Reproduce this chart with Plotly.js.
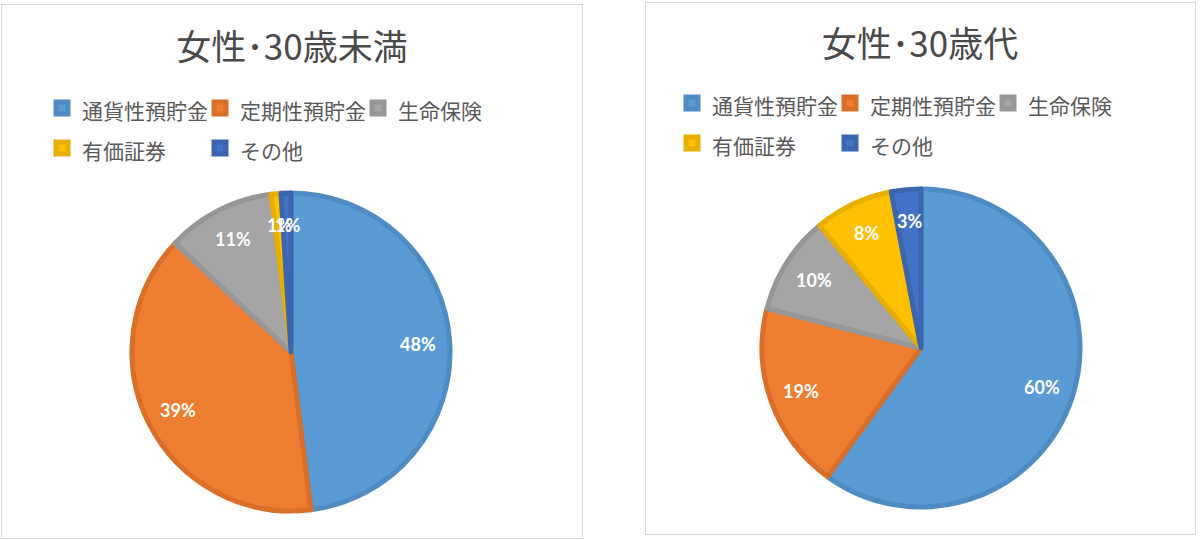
<!DOCTYPE html>
<html>
<head>
<meta charset="utf-8">
<script src="https://cdn.plot.ly/plotly-3.0.1.min.js"></script>
<style>
    body { margin: 0; background: #fff; width: 1200px; height: 540px; position: relative; overflow: hidden; }
    .panel { position: absolute; border: 1px solid #d9d9d9; box-sizing: border-box; background: #fff; }
</style>
</head>
<body>
<div class="panel" id="left" style="left:1px; top:4px; width:582px; height:535px;"></div>
<div class="panel" id="right" style="left:645px; top:2px; width:551px; height:533px;"></div>
<script>
const categories = ["通貨性預貯金", "定期性預貯金", "生命保険", "有価証券", "その他"];
const under30Values = [48, 39, 11, 1, 1];
const thirtiesValues = [60, 19, 10, 8, 3];
const sliceColors = ["#5b9bd5", "#ed7d31", "#a5a5a5", "#ffc000", "#4472c4"];
const edgeColors = ["#4f8cc4", "#d96f28", "#979797", "#e8ae00", "#3c65b0"];
const titles = ["女性･30歳未満", "女性･30歳代"];

// w/h = plot size inside the border, cx/cy/r = pie centre and radius in px
function drawPanel(id, title, values, o) {
    const total = values.reduce(function (a, b) { return a + b; }, 0);

    // percent labels at 80% of the radius, like the Excel "best fit"
    let cum = 0;
    const labels = values.map(function (v) {
        const mid = (cum + v / 2) / total * 2 * Math.PI;
        cum += v;
        const px = o.cx + o.r * 0.8 * Math.sin(mid);
        const py = o.cy - o.r * 0.8 * Math.cos(mid);
        return {
            x: px / o.w, y: 1 - py / o.h, xref: "paper", yref: "paper",
            xanchor: "center", yanchor: "middle", showarrow: false,
            text: Math.round(v / total * 100) + "%",
            font: { family: "Lato, 'Open Sans', sans-serif", size: 18, color: "#ffffff", weight: "bold" }
        };
    });

    const pie = {
        type: "pie",
        labels: categories.map(function (c) { return '<span style="font-size:21px">' + c + '</span>'; }),
        values: values,
        sort: false,
        direction: "clockwise",
        rotation: 0,
        textinfo: "none",
        hoverinfo: "skip",
        marker: { colors: sliceColors, line: { color: edgeColors, width: 5 } },
        domain: {
            x: [(o.cx - o.r) / o.w, (o.cx + o.r) / o.w],
            y: [1 - (o.cy + o.r) / o.h, 1 - (o.cy - o.r) / o.h]
        }
    };

    const div = document.createElement("div");
    document.getElementById(id).appendChild(div);
    Plotly.newPlot(div, [pie], {
        width: o.w, height: o.h,
        margin: { l: 0, r: 0, t: 0, b: 0 },
        paper_bgcolor: "#ffffff",
        title: {
            text: title, x: o.titleX / o.w, xanchor: "center",
            y: 1 - o.titleY / o.h, yref: "container", yanchor: "middle",
            font: { family: "'Noto Sans CJK JP', sans-serif", size: 35, color: "#4a4a4a" }
        },
        showlegend: true,
        legend: {
            orientation: "h", x: o.legendX / o.w, xanchor: "left",
            y: 1 - o.legendTop / o.h, yanchor: "top",
            entrywidth: 113, entrywidthmode: "pixels",
            font: { family: "'Noto Sans CJK JP', sans-serif", size: 28.5, color: "#595959" }
        },
        annotations: labels
    }, { staticPlot: true });
}

drawPanel("left", titles[0], under30Values,
    { w: 580, h: 533, cx: 289, cy: 347, r: 159, titleX: 290, titleY: 43, legendX: 40, legendTop: 78 });
drawPanel("right", titles[1], thirtiesValues,
    { w: 549, h: 531, cx: 275, cy: 345, r: 159, titleX: 274, titleY: 42, legendX: 26, legendTop: 75 });
</script>
</body>
</html>
